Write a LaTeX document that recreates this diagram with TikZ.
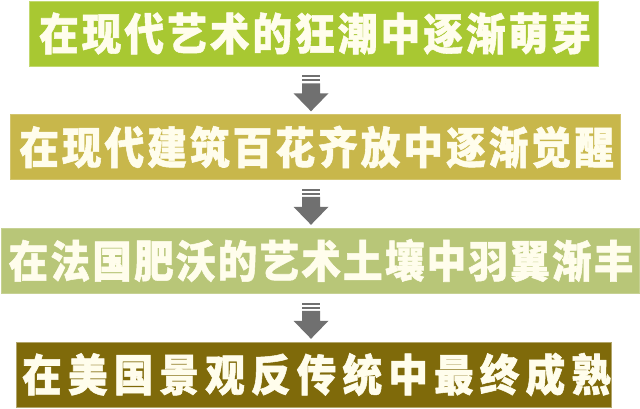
\documentclass[tikz,border=0pt]{standalone}
\usepackage{fontspec}
\usepackage{tikz}
\usetikzlibrary{calc}
\newfontfamily\cjkbar[FakeStretch=0.9,FakeBold=1.2]{Noto Sans CJK SC}
\definecolor{stageone}{RGB}{168, 200, 50}
\definecolor{stagetwo}{RGB}{200, 183, 75}
\definecolor{stagethree}{RGB}{184, 198, 120}
\definecolor{stagefour}{RGB}{127, 106, 10}
\definecolor{arrowgray}{RGB}{112, 112, 112}
\definecolor{cream}{RGB}{255, 253, 236}

\begin{document}
\begin{tikzpicture}[x=1pt, y=-1pt,
        stagebar/.style={rectangle, inner sep=0pt, minimum height=65pt, text=cream,
            font=\cjkbar\bfseries\fontsize{44}{44}\selectfont},
        stripearrow/.style={fill=arrowgray, draw=none}]
    \useasboundingbox (0, 0) rectangle (640, 408);
    \pgfmathsetmacro{\arrowCol}{311}

    \node[stagebar, fill=stageone, draw=stageone!70!white, minimum width=569pt] (s1) at (313.5, 33.5)
        {\hspace{.07em}\addfontfeature{LetterSpace=7}在现代艺术的狂潮中逐渐萌芽};
    \node[stagebar, fill=stagetwo, draw=stagetwo!80!white, minimum width=610pt] (s2) at (315, 147)
        {\hspace{.07em}\addfontfeature{LetterSpace=7}在现代建筑百花齐放中逐渐觉醒};
    \node[stagebar, fill=stagethree, draw=stagethree!80!white, minimum width=638pt] (s3) at (320, 260.5)
        {\hspace{.05em}\addfontfeature{LetterSpace=5}在法国肥沃的艺术土壤中羽翼渐丰};
    \node[stagebar, fill=stagefour, draw=stagefour!60!white, minimum width=569pt] (s4) at (313.5, 374.5)
        {\hspace{.14em}\addfontfeature{LetterSpace=14}在美国景观反传统中最终成熟};

    % striped arrows between the bars, tip just above the next bar
    \foreach \i/\j in {1/2, 2/3, 3/4}{
        \coordinate (t\i) at ($(s\j.north -| \arrowCol, 0) + (0, -3)$);
        \fill[stripearrow, shift={(t\i)}] (0, 0) -- (-17.5, -18) -- (-9, -18) -- (-9, -28)
            -- (9, -28) -- (9, -18) -- (17.5, -18) -- cycle;
        \fill[stripearrow, shift={(t\i)}] (-9, -32) rectangle (9, -30);
        \fill[stripearrow, shift={(t\i)}] (-9, -36) rectangle (9, -34);
    }
\end{tikzpicture}
\end{document}
